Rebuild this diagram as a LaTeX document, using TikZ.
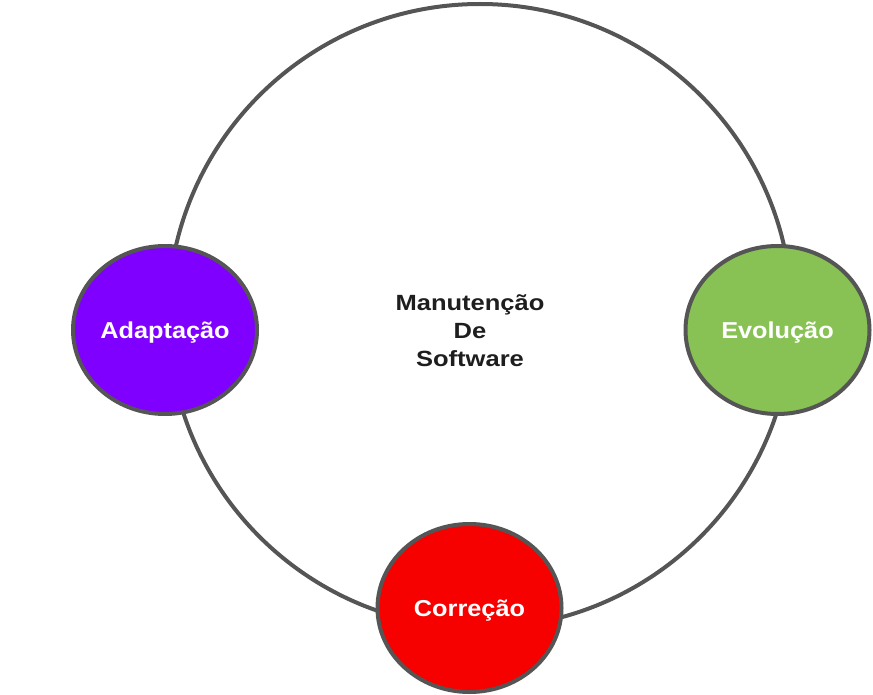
\documentclass[tikz,border=0pt]{standalone}
\usepackage{fontspec}
\setmainfont{Liberation Sans}
\usetikzlibrary{shapes.geometric}
\definecolor{edgegray}{RGB}{85,85,85}
\definecolor{purp}{RGB}{128,0,255}
\definecolor{grn}{RGB}{137,194,84}
\definecolor{rd}{RGB}{246,0,0}
\definecolor{txt}{RGB}{30,30,30}
\tikzset{
  phase/.style={ellipse, draw=edgegray, line width=4pt, inner sep=0pt,
    minimum width=184pt, minimum height=168pt, text height=16.5pt, text depth=0pt,
    text=white, font=\fontsize{23}{26}\selectfont\bfseries\addfontfeature{FakeStretch=1.1}},
}
\begin{document}
\begin{tikzpicture}[x=1pt,y=-1pt]
\useasboundingbox (0,0) rectangle (873,695);
\node[circle, draw=edgegray, line width=4pt, minimum size=624pt, inner sep=0pt] (ring) at (480,316) {};
\node[align=center, text=txt, font=\fontsize{22}{28}\selectfont\bfseries\addfontfeature{FakeStretch=1.16}] (title) at (470,331) {Manutenção\\De\\Software};
\node[phase, fill=purp] (adap) at (165,330) {Adaptação};
\node[phase, fill=grn] (evol) at (777.5,330) {Evolução};
\node[phase, fill=rd] (corr) at (469.5,608) {Correção};
\end{tikzpicture}
\end{document}
